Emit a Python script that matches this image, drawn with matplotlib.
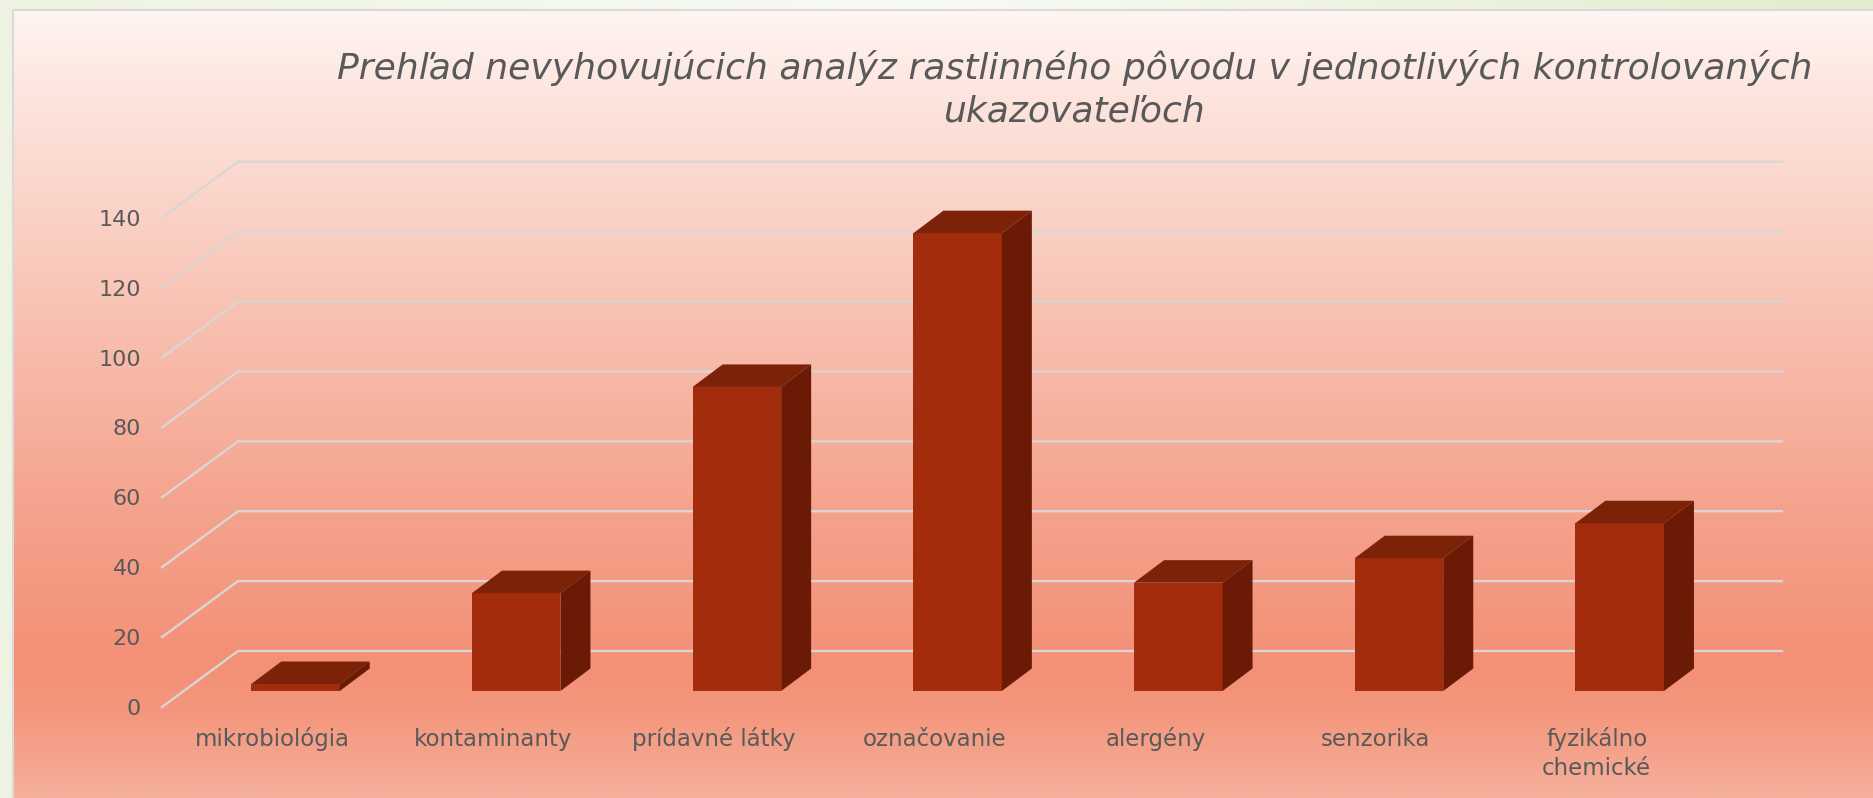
import numpy as np
from matplotlib import pyplot as plt
from matplotlib.colors import LinearSegmentedColormap
from matplotlib.patches import Rectangle

categories = ['mikrobiológia', 'kontaminanty', 'prídavné látky', 'označovanie',
              'alergény', 'senzorika', 'fyzikálno\nchemické']
values = [2, 28, 87, 131, 31, 38, 48]
y_ticks = [0, 20, 40, 60, 80, 100, 120, 140]
title = 'Prehľad nevyhovujúcich analýz rastlinného pôvodu v jednotlivých kontrolovaných\nukazovateľoch'

W, H = 1873, 798
plt.rcParams['font.family'] = ['DejaVu Sans']

fig = plt.figure(figsize=(W / 100, H / 100), dpi=100)

# pozadie: svetlozeleny okraj a panel s prechodom
bg = fig.add_axes([0, 0, 1, 1], zorder=0)
bg.set_xlim(0, W)
bg.set_ylim(H, 0)
bg.axis('off')
green = LinearSegmentedColormap.from_list('g', ['#EEF3E1', '#F8FAF4', '#E3EBCC'])
bg.imshow(np.linspace(0, 1, 256).reshape(1, -1), extent=(0, W, H, 0), cmap=green, aspect='auto')

panel_x, panel_y = 13, 10
stops = [(0.0, '#FFF5F2'), (0.10, '#FDE6DF'), (0.35, '#F9C6B8'), (0.62, '#F5A48F'),
         (0.83, '#F39076'), (0.90, '#F4987F'), (1.0, '#F6B09C')]
salmon = LinearSegmentedColormap.from_list('s', stops)
bg.imshow(np.linspace(0, 1, 512).reshape(-1, 1), extent=(panel_x, W, H, panel_y), cmap=salmon, aspect='auto')
bg.add_patch(Rectangle((panel_x, panel_y), W, H, fill=False, ec='#D9D9D9', lw=1.5))
bg.set_xlim(0, W)
bg.set_ylim(H, 0)

# hlavna os: x = poradie kategorie, y = hodnota
px_cat = 220.7
px_val = 3.495
x0_px = 295.5
y0_px = 691
ax = fig.add_axes([0, 0, 1, 1], zorder=1)
ax.patch.set_alpha(0)
ax.axis('off')
ax.set_xlim(-x0_px / px_cat, (W - x0_px) / px_cat)
ax.set_ylim((y0_px - H) / px_val, y0_px / px_val)

# hlbka v jednotkach osi
bar_w = 88.5 / px_cat
depth_x = 30 / px_cat
depth_y = 22.5 / px_val

# mriezka - predny bod, zadny bod, koniec na zadnej stene
front_x = (162 - x0_px) / px_cat
back_x = (238 - x0_px) / px_cat
end_x = (1782 - x0_px) / px_cat
front_y = (y0_px - 707) / px_val
back_y = (y0_px - 651) / px_val
for v in y_ticks:
    ax.plot([front_x, back_x, end_x], [v + front_y, v + back_y, v + back_y],
            color='#D9D6D4', lw=1.7, zorder=1, solid_joinstyle='miter')
    ax.text(front_x - 21 / px_cat, v + front_y - 2 / px_val, str(v), ha='right', va='center',
            fontsize=16, color='#595959')

# stlpce: predna stena, vrch, bok
xs = np.arange(len(values))
ax.bar(xs, values, bar_w, color='#A32C0C', zorder=3)
for x, v in zip(xs, values):
    left, right = x - bar_w / 2, x + bar_w / 2
    ax.fill([left, right, right + depth_x, left + depth_x],
            [v, v, v + depth_y, v + depth_y], color='#7C2209', lw=0, zorder=3)
    ax.fill([right, right + depth_x, right + depth_x, right],
            [0, depth_y, v + depth_y, v], color='#6B1A05', lw=0, zorder=3)

# popisky kategorii su posunute vlavo od stlpcov, baseline patri poslednemu riadku
for x, name in zip(xs, categories):
    last_line = 746 + 29 * name.count('\n')
    ax.text(x - 23 / px_cat, (y0_px - last_line) / px_val, name, ha='center', va='baseline',
            fontsize=16.5, color='#595959', linespacing=1.35)

ax.text((1074.5 - x0_px) / px_cat, (y0_px - 121) / px_val, title, ha='center', va='baseline',
        fontsize=26, style='italic', color='#595959', linespacing=1.3)

fig.savefig('out.png', dpi=100)
